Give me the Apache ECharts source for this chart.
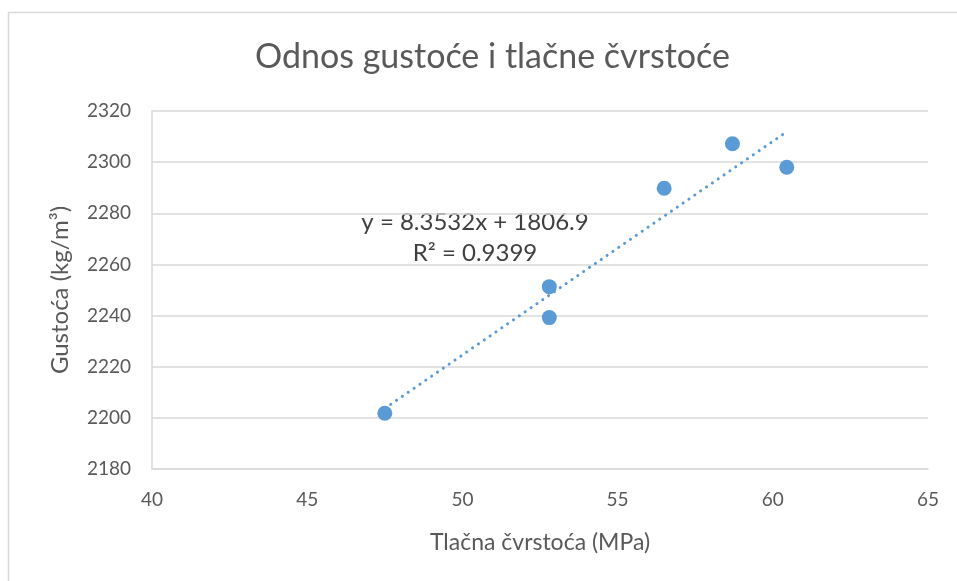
<!DOCTYPE html>
<html>
<head>
<meta charset="utf-8">
<script src="https://cdn.jsdelivr.net/npm/echarts@6/dist/echarts.min.js"></script>
<style>html,body{margin:0;padding:0;background:#fff;}#c{width:957px;height:581px;}</style>
</head>
<body>
<div id="c"></div>
<script>
var strength = [47.5, 52.8, 52.8, 56.5, 58.7, 60.45];
var density = [2201.8, 2251.3, 2239.2, 2289.8, 2307.2, 2298.0];
var trendX = [47.5, 60.45];
var trendY = [2203.7, 2311.9];
var xTicks = [40, 45, 50, 55, 60, 65];
var yTicks = [2180, 2200, 2220, 2240, 2260, 2280, 2300, 2320];
var titleText = 'Odnos gustoće i tlačne čvrstoće';
var xName = 'Tlačna čvrstoća (MPa)';
var yName = 'Gustoća (kg/m³)';
var eqText = 'y = 8.3532x + 1806.9';
var r2Text = 'R² = 0.9399';

var FONT = 'Lato';
var chart = echarts.init(document.getElementById('c'), null, {renderer: 'canvas'});
chart.setOption({
  animation: false,
  backgroundColor: '#fff',
  title: {
    text: titleText, left: 250, top: 35,
    textStyle: {fontFamily: FONT, fontSize: 34, fontWeight: 'normal', color: '#595959'}
  },
  grid: {left: 152, right: 29, top: 111, bottom: 112, containLabel: false},
  xAxis: {
    type: 'value', min: xTicks[0], max: xTicks[xTicks.length - 1], interval: 5,
    name: xName, nameLocation: 'middle', nameGap: 62,
    nameTextStyle: {fontFamily: FONT, fontSize: 23, color: '#595959'},
    axisLine: {show: true, lineStyle: {color: '#d9d9d9', width: 1.5}},
    axisTick: {show: false},
    axisLabel: {fontFamily: FONT, fontSize: 19, color: '#595959', margin: 21},
    splitLine: {show: false}
  },
  yAxis: {
    type: 'value', min: yTicks[0], max: yTicks[yTicks.length - 1], interval: 20,
    name: yName, nameLocation: 'middle', nameGap: 80, nameRotate: 90,
    nameTextStyle: {fontFamily: FONT, fontSize: 24, color: '#595959'},
    axisLine: {show: true, lineStyle: {color: '#d9d9d9', width: 1.5}},
    axisTick: {show: false},
    axisLabel: {fontFamily: FONT, fontSize: 19, color: '#595959', margin: 21,
      formatter: function (v) { return String(v); }},
    splitLine: {show: true, lineStyle: {color: '#d9d9d9', width: 1.5}}
  },
  graphic: [
    {type: 'rect', shape: {x: 8.5, y: 12.5, width: 1000, height: 1000}, style: {fill: 'none', stroke: '#d9d9d9', lineWidth: 1.5}, z: -10},
    {type: 'text', x: 475, y: 222, style: {text: eqText, font: '24px ' + FONT, fill: '#404040', align: 'center', verticalAlign: 'middle'}},
    {type: 'text', x: 475, y: 253, style: {text: r2Text, font: '24px ' + FONT, fill: '#404040', align: 'center', verticalAlign: 'middle'}}
  ],
  series: [
    {
      type: 'line', data: trendX.map(function (x, i) { return [x, trendY[i]]; }),
      showSymbol: false, symbol: 'none',
      lineStyle: {color: '#5b9bd5', width: 3, type: [0.1, 7], cap: 'round'},
      z: 2
    },
    {
      type: 'scatter', data: strength.map(function (x, i) { return [x, density[i]]; }),
      symbol: 'circle', symbolSize: 15,
      itemStyle: {color: '#5b9bd5', opacity: 1}, z: 3
    }
  ]
});
</script>
</body>
</html>
